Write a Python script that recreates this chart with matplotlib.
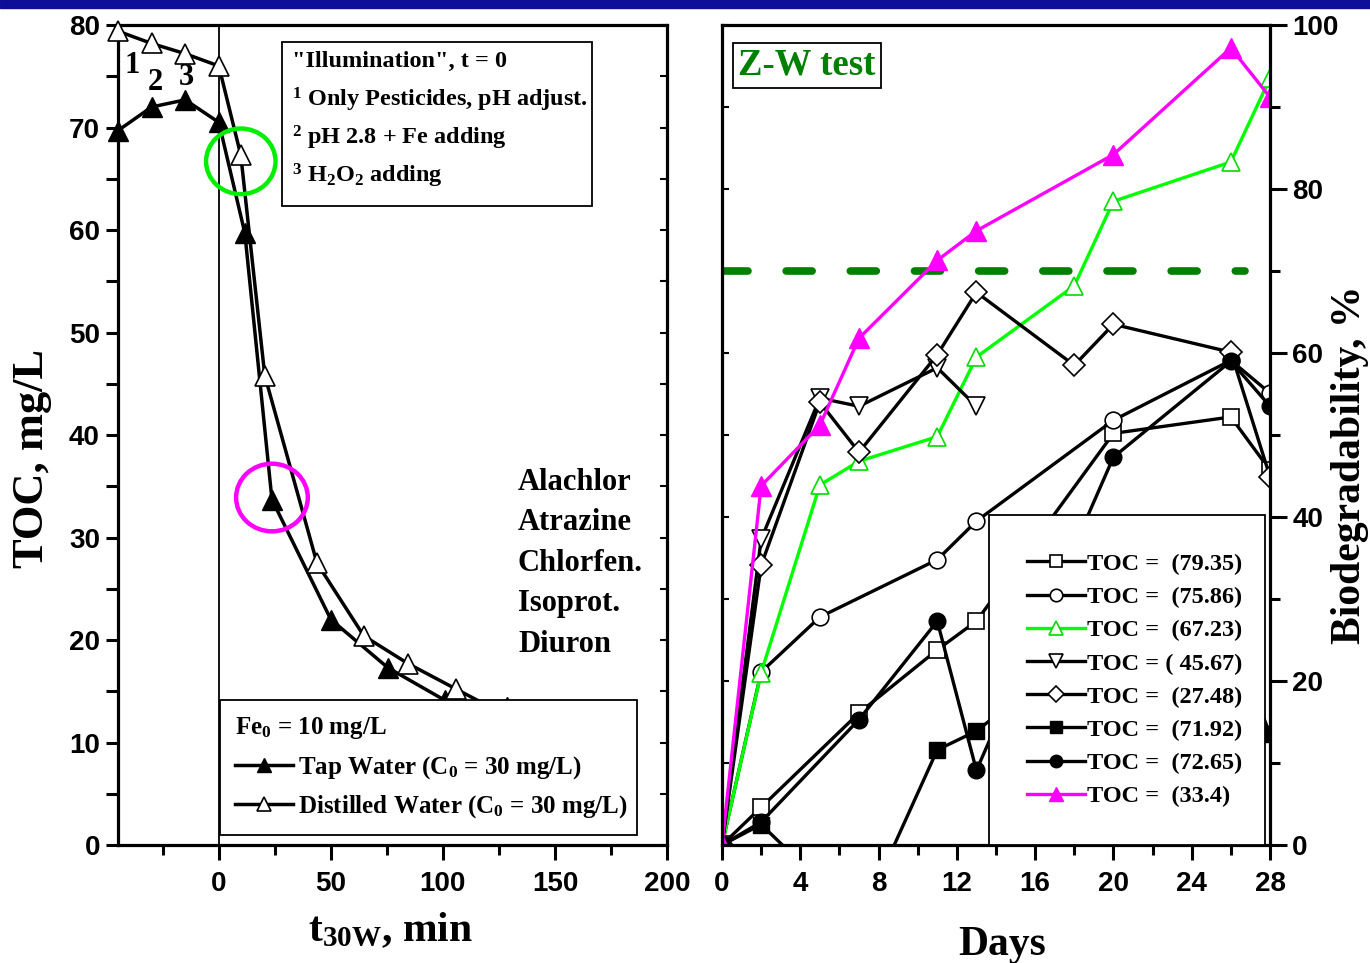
import matplotlib
matplotlib.use("Agg")
import matplotlib.pyplot as plt
import matplotlib.ticker as ticker
from matplotlib.patches import Ellipse, Rectangle
from matplotlib import font_manager

plt.rcParams["font.family"] = "Liberation Serif"
plt.rcParams["font.weight"] = "bold"
plt.rcParams["axes.labelweight"] = "bold"
plt.rcParams["mathtext.fontset"] = "custom"
plt.rcParams["mathtext.rm"] = "Liberation Serif:bold"
plt.rcParams["mathtext.it"] = "Liberation Serif:bold"
plt.rcParams["mathtext.bf"] = "Liberation Serif:bold"

# ── left panel: TOC vs. illumination time ─────────────────────────────────
T_TAP = [-45, -30, -15, 0, 11.6, 23.7, 50, 75.4, 101, 128.6]
TOC_TAP = [69.7, 72.0, 72.7, 70.5, 59.7, 33.7, 22.0, 17.3, 14.1, 13.5]
T_DIST = [-45, -30, -15, 0, 9.8, 20.5, 43.8, 64.7, 84.4, 106, 128.6]
TOC_DIST = [79.4, 78.2, 77.2, 76.0, 67.3, 45.8, 27.5, 20.4, 17.7, 15.2, 12.6]
STEP_LABELS = ["1", "2", "3"]
PESTICIDES = ["Alachlor", "Atrazine", "Chlorfen.", "Isoprot.", "Diuron"]

# ── right panel: Zahn-Wellens biodegradability ────────────────────────────
D_SQ = [0, 2, 7, 11, 13, 20, 26, 28]
B_SQ = [0, 4.6, 16.1, 23.8, 27.3, 50.2, 52.2, 45.7]
D_CI = [0, 2, 5, 11, 13, 20, 26, 28]
B_CI = [0, 21.1, 27.8, 34.8, 39.5, 51.8, 59.1, 55.1]
D_GR = [0, 2, 5, 7, 11, 13, 18, 20, 26, 28]
B_GR = [0, 21.0, 43.9, 46.8, 49.8, 59.5, 68.2, 78.5, 83.3, 93.5]
D_TD = [0, 2, 5, 7, 11, 13]
B_TD = [0, 37.3, 54.5, 53.5, 58.2, 53.5]
D_DI = [0, 2, 5, 7, 11, 13, 18, 20, 26, 28]
B_DI = [0, 34.1, 54.0, 47.9, 59.8, 67.4, 58.5, 63.5, 60.1, 44.9]
D_FSQ = [0, 2, 5, 7, 11, 13, 20, 26, 28]
B_FSQ = [0, 2.5, -4.4, -9.5, 11.6, 13.9, 27.0, 26.0, 13.5]
D_FCI = [0, 2, 7, 11, 13, 20, 26, 28]
B_FCI = [0, 2.8, 15.3, 27.3, 9.1, 47.3, 59.0, 53.5]
D_MG = [0, 2, 5, 7, 11, 13, 20, 26, 28]
B_MG = [0, 43.8, 51.2, 61.8, 71.3, 74.9, 84.2, 97.2, 91.2]
TOC_LABELS = ["TOC =  (79.35)", "TOC =  (75.86)", "TOC =  (67.23)", "TOC = ( 45.67)",
              "TOC =  (27.48)", "TOC =  (71.92)", "TOC =  (72.65)", "TOC =  (33.4)"]
ZW_LIMIT = 70


def tick_font():
    for fam in ["Liberation Sans Narrow", "Liberation Sans"]:
        try:
            font_manager.findfont(font_manager.FontProperties(family=fam),
                                  fallback_to_default=False)
            size = 24 if "Narrow" in fam else 20
            return font_manager.FontProperties(family=fam, weight="bold", size=size)
        except ValueError:
            continue
    return font_manager.FontProperties(weight="bold", size=20)


TICK_FP = tick_font()


def style_ticks(ax):
    for lab in ax.get_xticklabels() + ax.get_yticklabels():
        lab.set_fontproperties(TICK_FP)


fig = plt.figure(figsize=(13.7, 9.63), dpi=100)
fig.patches.append(Rectangle((0, 1 - 8 / 963), 1, 8 / 963, transform=fig.transFigure,
                             color="#0e0e99", zorder=10))

axL = fig.add_axes([118 / 1370, 1 - 845 / 963, 549 / 1370, 820 / 963])
axR = fig.add_axes([722 / 1370, 1 - 845 / 963, 548 / 1370, 820 / 963])

# left panel
axL.set_xlim(-45, 200)
axL.set_ylim(0, 80)
axL.axvline(0, color="black", lw=1.3, zorder=1)
tap, = axL.plot(T_TAP, TOC_TAP, "-^", color="black", mfc="black", ms=14, lw=2.5,
                clip_on=False, zorder=3)
dist, = axL.plot(T_DIST, TOC_DIST, "-^", color="black", mfc="white", mec="black",
                 mew=1.2, ms=14, lw=2.5, clip_on=False, zorder=3)

step_offsets = [(10, -25), (3, -28), (1, -17)]
for lab, xi, yi, off in zip(STEP_LABELS, T_DIST[:3], TOC_DIST[:3], step_offsets):
    axL.annotate(lab, (xi, yi), xytext=off, textcoords="offset points",
                 ha="center", va="center", fontsize=22)

axL.add_patch(Ellipse((T_DIST[4], TOC_DIST[4] - 0.6), 31, 6.4, fill=False,
                      ec="#00ee00", lw=3.2, zorder=4))
axL.add_patch(Ellipse((T_TAP[5], TOC_TAP[5] + 0.2), 32, 6.6, fill=False,
                      ec="#ff00ff", lw=3.2, zorder=4))

axL.add_patch(Rectangle((28.1, 62.3), 138.4, 16.0, fc="white", ec="black", lw=1.3, zorder=2))
note = ['"Illumination", t = 0', "$^1$ Only Pesticides, pH adjust.",
        "$^2$ pH 2.8 + Fe adding", "$^3$ H$_2$O$_2$ adding"]
for i, line in enumerate(note):
    axL.text(32.6, 76.4 - 3.72 * i, line, fontsize=17.5, va="center", ha="left", zorder=3)

axL.text(133.5, 36.8, "\n".join(PESTICIDES), fontsize=22, va="top", ha="left",
         linespacing=1.52)

legL = axL.legend([tap, dist], ["Tap Water (C$_0$ = 30 mg/L)", "Distilled Water (C$_0$ = 30 mg/L)"],
                  title="Fe$_0$ = 10 mg/L", title_fontproperties={"size": 18, "weight": "bold"},
                  alignment="left", loc="lower left", bbox_to_anchor=(0.186, 0.012, 0.759, 0.161),
                  mode="expand", borderaxespad=0, fontsize=18, fancybox=False, edgecolor="black",
                  framealpha=1, handlelength=2.3, handletextpad=0.2, labelspacing=0.5,
                  markerscale=0.75, borderpad=0.6)
legL.get_frame().set_linewidth(1.3)
legL.set_zorder(5)

axL.set_xticks([0, 50, 100, 150, 200])
axL.xaxis.set_minor_locator(ticker.MultipleLocator(25))
axL.set_yticks(range(0, 81, 10))
axL.yaxis.set_minor_locator(ticker.MultipleLocator(5))
axL.tick_params(axis="x", which="major", direction="out", length=11, width=2.2, pad=8)
axL.tick_params(axis="x", which="minor", direction="out", length=7, width=2.2)
axL.tick_params(axis="y", which="both", direction="out", length=9, width=2.2, pad=4)
secL = axL.secondary_yaxis("right")
secL.set_yticks(range(0, 81, 5))
secL.tick_params(direction="in", length=5, width=1.5, labelright=False)
for sp in axL.spines.values():
    sp.set_linewidth(2.3)
style_ticks(axL)

# right panel
axR.set_xlim(0, 28)
axR.set_ylim(0, 100)
lw = 2.4
h_sq, = axR.plot(D_SQ, B_SQ, "-s", color="black", mfc="white", mec="black", ms=11, lw=lw, mew=1.2)
h_ci, = axR.plot(D_CI, B_CI, "-o", color="black", mfc="white", mec="black", ms=12, lw=lw, mew=1.2)
h_gr, = axR.plot(D_GR, B_GR, "-^", color="#00ff00", mfc="white", mec="#00dd00", ms=13, lw=lw, mew=1.2)
h_td, = axR.plot(D_TD, B_TD, "-v", color="black", mfc="white", mec="black", ms=13, lw=lw, mew=1.2)
h_di, = axR.plot(D_DI, B_DI, "-D", color="black", mfc="white", mec="black", ms=11, lw=lw, mew=1.2)
h_fsq, = axR.plot(D_FSQ, B_FSQ, "-s", color="black", mfc="black", ms=11, lw=lw)
h_fci, = axR.plot(D_FCI, B_FCI, "-o", color="black", mfc="black", ms=12, lw=lw)
h_mg, = axR.plot(D_MG, B_MG, "-^", color="#ff00ff", mfc="#ff00ff", mec="#ff00ff", ms=14, lw=lw)

axR.axhline(ZW_LIMIT, xmin=0, xmax=0.954, color="#008000", lw=5.5,
            dashes=(3.4, 5.0), dash_capstyle="round", zorder=1)

axR.text(0.03, 0.972, "Z-W test", transform=axR.transAxes, fontsize=26.5, color="#008000",
         va="top", ha="left",
         bbox=dict(boxstyle="square,pad=0.14", fc="white", ec="black", lw=1.3))

legR = axR.legend([h_sq, h_ci, h_gr, h_td, h_di, h_fsq, h_fci, h_mg], TOC_LABELS,
                  loc="lower left", bbox_to_anchor=(0.487, 0.0, 0.504, 0.402), mode="expand",
                  borderaxespad=0, fontsize=17.5, fancybox=False, edgecolor="black", framealpha=1,
                  handlelength=2.4, handletextpad=0.1, labelspacing=0.46, markerscale=0.75,
                  borderpad=1.55)
legR.get_frame().set_linewidth(1.3)
legR.set_zorder(5)

axR.set_xticks(range(0, 29, 4))
axR.xaxis.set_minor_locator(ticker.MultipleLocator(2))
axR.set_yticks(range(0, 101, 20))
axR.yaxis.set_minor_locator(ticker.MultipleLocator(10))
axR.tick_params(axis="x", which="major", direction="out", length=11, width=2.2, pad=8)
axR.tick_params(axis="x", which="minor", direction="out", length=7, width=2.2)
axR.tick_params(axis="y", which="major", direction="out", length=12, width=2.2,
                left=False, right=True, labelleft=False, labelright=True, pad=4)
axR.tick_params(axis="y", which="minor", direction="out", length=7, width=2.2,
                left=False, right=True)
secR = axR.secondary_yaxis("left")
secR.set_yticks(range(0, 101, 10))
secR.tick_params(direction="in", length=5, width=1.5, labelleft=False)
for sp in axR.spines.values():
    sp.set_linewidth(2.3)
style_ticks(axR)

# axis titles
fig.text(32 / 1370, 1 - 458 / 963, "TOC, mg/L", rotation=90, fontsize=32,
         ha="center", va="center")
fig.text(390 / 1370, 1 - 930 / 963, "t$_{30W}$, min", fontsize=30, ha="center", va="center")
fig.text(1350 / 1370, 1 - 465 / 963, "Biodegradability, %", rotation=90, fontsize=30,
         ha="center", va="center")
fig.text(1002 / 1370, 1 - 945 / 963, "Days", fontsize=30, ha="center", va="center")

fig.savefig("out.png", dpi=100)
